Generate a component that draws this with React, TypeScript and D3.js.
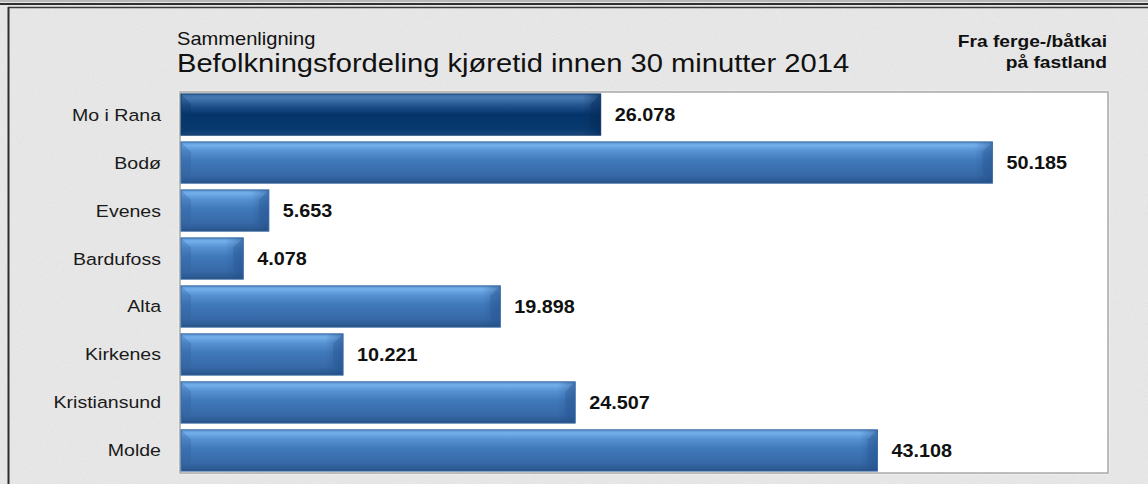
import React from "react";
import * as d3 from "d3";

const categories = ["Mo i Rana", "Bodø", "Evenes", "Bardufoss", "Alta", "Kirkenes", "Kristiansund", "Molde"];
const values = [26078, 50185, 5653, 4078, 19898, 10221, 24507, 43108];
const highlighted = ["Mo i Rana"];
const subtitle = "Sammenligning";
const title = "Befolkningsfordeling kjøretid innen 30 minutter 2014";
const noteLines = ["Fra ferge-/båtkai", "på fastland"];

const W = 1148;
const H = 484;
const plot = { left: 180, right: 1108, top: 92, bottom: 473 };
const FONT = "'Liberation Sans', Arial, sans-serif";

const fmt = (v: number) => d3.format(",")(v).replace(/,/g, ".");

const sx = (x0: number, y0: number, s: number) => `translate(${x0},${y0}) scale(${s},1) translate(${-x0},${-y0})`;

export default function App() {
  const x = d3.scaleLinear().domain([0, 57300]).range([177, plot.right]);
  const y = d3
    .scaleBand<string>()
    .domain(categories)
    .range([plot.top, plot.bottom])
    .paddingInner(0.14)
    .paddingOuter(0.04);
  const bw = y.bandwidth();
  const barStart = plot.left + 1;

  return (
    <svg width={W} height={H} style={{ position: "absolute", left: 0, top: 0 }} fontFamily={FONT}>
      <defs>
        <filter id="noise" x="0" y="0" width="100%" height="100%">
          <feTurbulence type="fractalNoise" baseFrequency="0.9" numOctaves="2" seed="3" />
          <feColorMatrix type="saturate" values="0" />
        </filter>
        <linearGradient id="gLight" x1="0" y1="0" x2="0" y2="1">
          <stop offset="0" stopColor="#5a93cf" />
          <stop offset="0.08" stopColor="#74b0ec" />
          <stop offset="0.22" stopColor="#5792d2" />
          <stop offset="0.45" stopColor="#4079bb" />
          <stop offset="0.8" stopColor="#3769a8" />
          <stop offset="0.94" stopColor="#2d5b94" />
          <stop offset="1" stopColor="#244d80" />
        </linearGradient>
        <linearGradient id="gDark" x1="0" y1="0" x2="0" y2="1">
          <stop offset="0" stopColor="#3a6ca4" />
          <stop offset="0.1" stopColor="#4578b0" />
          <stop offset="0.3" stopColor="#1f508a" />
          <stop offset="0.5" stopColor="#04346a" />
          <stop offset="0.85" stopColor="#083a6f" />
          <stop offset="1" stopColor="#1b477a" />
        </linearGradient>
        <linearGradient id="capL" x1="0" y1="0" x2="1" y2="0">
          <stop offset="0" stopColor="#1e4b82" stopOpacity={0} />
          <stop offset="1" stopColor="#1e4b82" stopOpacity={0.45} />
        </linearGradient>
        <linearGradient id="capD" x1="0" y1="0" x2="1" y2="0">
          <stop offset="0" stopColor="#062c5a" stopOpacity={0} />
          <stop offset="1" stopColor="#062c5a" stopOpacity={0.6} />
        </linearGradient>
      </defs>

      {/* background */}
      <rect x={0} y={0} width={W} height={H} fill="#e9e9e9" />
      <rect x={0} y={0} width={W} height={H} filter="url(#noise)" opacity={0.13} />

      {/* frame lines */}
      <line x1={0} x2={W} y1={1} y2={1} stroke="#8a8a8a" strokeWidth={1} />
      <line x1={0} x2={W} y1={4} y2={4} stroke="#2e2e2e" strokeWidth={2} />
      <line x1={8} x2={W} y1={7.5} y2={7.5} stroke="#3a3a3a" strokeWidth={1.5} />
      <line x1={8.5} x2={8.5} y1={7} y2={H} stroke="#2e2e2e" strokeWidth={2} />

      {/* titles */}
      <text x={177} y={45} fontSize={18.6} fill="#111" transform={sx(177, 45, 1.08)}>
        {subtitle}
      </text>
      <text x={177} y={72} fontSize={26.5} fill="#111" transform={sx(177, 72, 1.1)}>
        {title}
      </text>
      {noteLines.map((t, i) => (
        <text
          key={t}
          x={1107}
          y={47 + i * 21}
          fontSize={16}
          fontWeight="bold"
          textAnchor="end"
          fill="#111"
          transform={sx(1107, 47 + i * 21, 1.2)}
        >
          {t}
        </text>
      ))}

      {/* plot area */}
      <rect
        x={plot.left - 1}
        y={plot.top - 1}
        width={plot.right - plot.left + 2}
        height={plot.bottom - plot.top + 2}
        fill="none"
        stroke="#f4f4f4"
        strokeWidth={1}
      />
      <rect
        x={plot.left}
        y={plot.top}
        width={plot.right - plot.left}
        height={plot.bottom - plot.top}
        fill="#ffffff"
        stroke="#a8a8a8"
        strokeWidth={1.5}
      />

      {/* bars */}
      {categories.map((c, i) => {
        const v = values[i];
        const x0 = barStart;
        const x1 = x(v);
        const top = y(c)!;
        const bot = top + bw;
        const dark = highlighted.includes(c);
        const b = 10;
        const cw = Math.min(18, (x1 - x0) / 3);
        return (
          <g key={c}>
            <rect x={x0} y={top} width={x1 - x0} height={bw} fill={dark ? "url(#gDark)" : "url(#gLight)"} />
            {/* left bevel */}
            <polygon
              points={`${x0},${top} ${x0 + b},${top + b} ${x0 + b},${bot - b} ${x0},${bot}`}
              fill={dark ? "#0b3568" : "#2f5f9a"}
              opacity={0.3}
            />
            {/* right cap */}
            <rect x={x1 - cw} y={top} width={cw} height={bw} fill={dark ? "url(#capD)" : "url(#capL)"} />
            <polygon
              points={`${x1 - b},${top + b} ${x1},${top} ${x1},${bot} ${x1 - b},${bot - b}`}
              fill={dark ? "#0a2f5e" : "#2a5a98"}
              opacity={0.35}
            />
            <rect x={x0} y={top} width={x1 - x0} height={bw} fill="none" stroke={dark ? "#123c6c" : "#3a6aa4"} strokeWidth={1} />
            <text
              x={x1 + 14}
              y={top + bw / 2 + 6.5}
              fontSize={18}
              fontWeight="bold"
              fill="#111"
              transform={sx(x1 + 14, top + bw / 2, 1.1)}
            >
              {fmt(v)}
            </text>
            <text
              x={161}
              y={top + bw / 2 + 6}
              fontSize={17}
              textAnchor="end"
              fill="#1a1a1a"
              transform={sx(161, top + bw / 2, 1.15)}
            >
              {c}
            </text>
          </g>
        );
      })}
    </svg>
  );
}
